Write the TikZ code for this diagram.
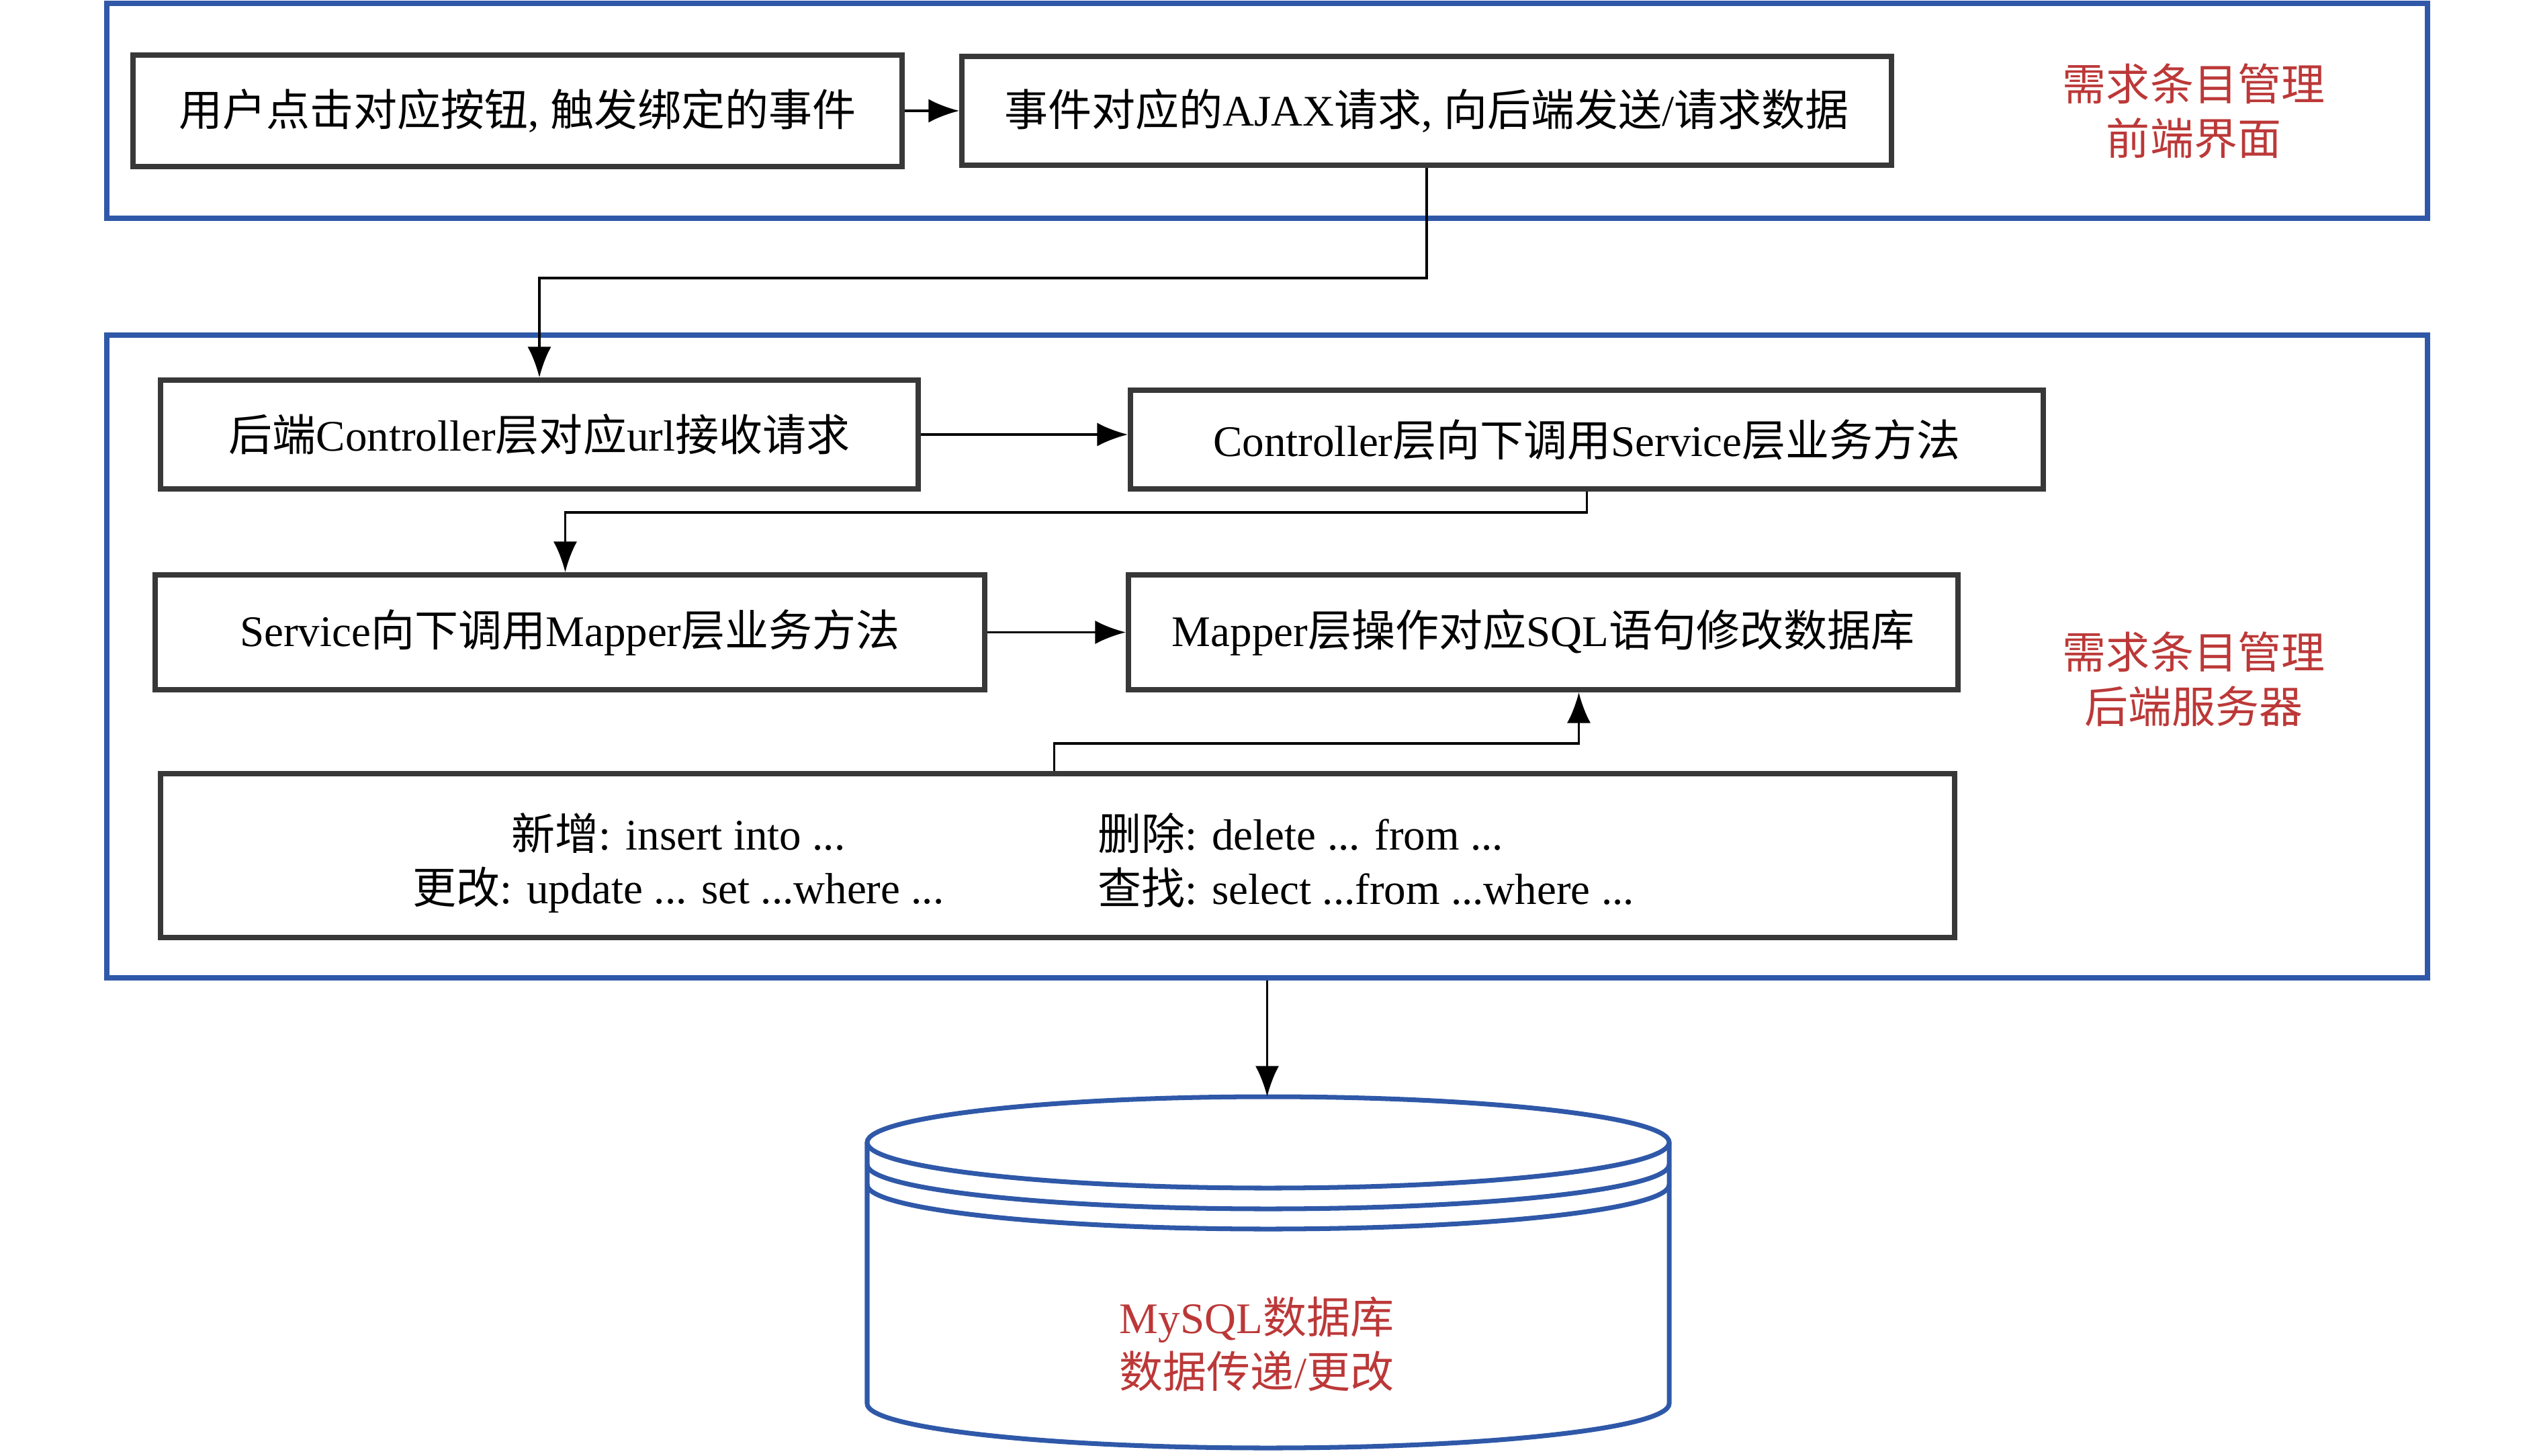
\documentclass[tikz,border=0pt]{standalone}
\usepackage{fontspec}
\setmainfont{Liberation Serif}
\newfontfamily\cjk{Noto Sans CJK SC}
\usetikzlibrary{arrows.meta, positioning}
\definecolor{frameblue}{RGB}{47,88,168}
\definecolor{labelred}{RGB}{188,56,56}
\newcommand{\zh}[1]{{\cjk #1}}

\begin{document}
\begin{tikzpicture}[x=1cm, y=1cm,
  font=\fontsize{18.5}{23}\selectfont,
  box/.style={draw=black!78, line width=2.2pt, fill=white, inner sep=0pt},
  frame/.style={draw=frameblue, line width=2.4pt, inner sep=0pt},
  arr/.style={-{Latex[length=13pt,width=10pt]}, line width=1.1pt},
  note/.style={text=labelred, align=center},
  dbline/.style={draw=frameblue, line width=2pt}]
\useasboundingbox (0,0) rectangle (37.8,-21.67);

% the two layers
\node[frame, minimum width=34.55cm, minimum height=3.2cm] (front) at (18.865,-1.65) {};
\node[frame, minimum width=34.55cm, minimum height=9.57cm] (back) at (18.865,-9.775) {};
\node[note] (frontlbl) at (32.66,-1.65) {\zh{需求条目管理}\\\zh{前端界面}};
\node[note] (backlbl) at (32.66,-10.11) {\zh{需求条目管理}\\\zh{后端服务器}};

% front end
\node[box, minimum width=11.45cm, minimum height=1.66cm] (click) at (7.705,-1.65)
  {\zh{用户点击对应按钮}, \zh{触发绑定的事件}};
\node[box, minimum width=13.84cm, minimum height=1.62cm] (ajax) at (21.24,-1.65)
  {\zh{事件对应的}AJAX\zh{请求}, \zh{向后端发送}/\zh{请求数据}};

% back end
\node[box, minimum width=11.28cm, minimum height=1.62cm] (ctrl) at (8.03,-6.47)
  {\zh{后端}Controller\zh{层对应}url\zh{接收请求}};
\node[box, minimum width=13.59cm, minimum height=1.47cm] (ctrlsvc) at (23.625,-6.545)
  {Controller\zh{层向下调用}Service\zh{层业务方法}};
\node[box, minimum width=12.35cm, minimum height=1.71cm] (svc) at (8.485,-9.415)
  {Service\zh{向下调用}Mapper\zh{层业务方法}};
\node[box, minimum width=12.35cm, minimum height=1.71cm] (mapper) at (22.975,-9.415)
  {Mapper\zh{层操作对应}SQL\zh{语句修改数据库}};
\node[box, minimum width=26.71cm, minimum height=2.44cm] (sql) at (15.745,-12.74) {};
\node[align=center] (sqlleft) at (10.10,-12.85)
  {\zh{新增}: insert into ...\\\zh{更改}: update ... set ...where ...};
\node[align=left, anchor=west, inner sep=0pt] (sqlright) at (16.34,-12.81)
  {\zh{删除}: delete ... from ...\\\zh{查找}: select ...from ...where ...};

% database
\coordinate (dbtop) at (18.88,-16.33);
\fill[white] (12.91,-17.01) -- (12.91,-20.90) arc (180:360:5.97 and 0.66) -- (24.85,-17.01) -- cycle;
\draw[dbline] (18.88,-17.01) ellipse (5.97 and 0.68);
\draw[dbline] (12.91,-17.34) arc (180:360:5.97 and 0.66);
\draw[dbline] (12.91,-17.64) arc (180:360:5.97 and 0.66);
\draw[dbline] (12.91,-17.01) -- (12.91,-20.90) arc (180:360:5.97 and 0.66) -- (24.85,-17.01);
\node[note] (db) at (18.71,-20.01) {MySQL\zh{数据库}\\\zh{数据传递}/\zh{更改}};

% flow
\draw[arr] (click) -- (ajax);
\draw[arr] (ajax.south) -- ++(0,-1.64) -| (ctrl.north);
\draw[arr] (ctrl.east) -- (ctrl.east -| ctrlsvc.west);
\draw[arr] (ctrlsvc.south) -- ++(0,-0.31) -| ([xshift=-0.07cm]svc.north);
\draw[arr] (svc) -- (mapper);
\draw[arr] ([xshift=-0.05cm]sql.north) -- ++(0,0.41) -| ([xshift=0.53cm]mapper.south);
\draw[arr] (back.south) -- (back.south |- dbtop);
\end{tikzpicture}
\end{document}
